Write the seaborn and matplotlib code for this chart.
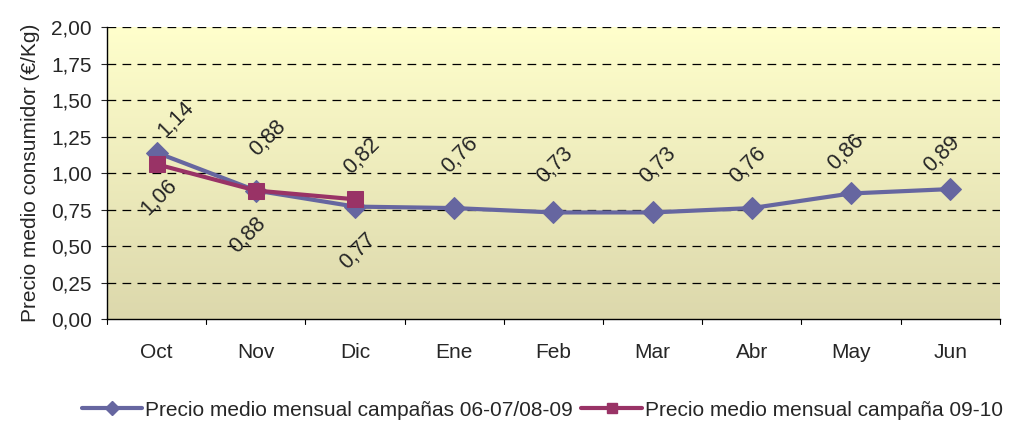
import numpy as np
import pandas as pd
import matplotlib
matplotlib.use("Agg")
import matplotlib.pyplot as plt
import seaborn as sns
from matplotlib.colors import LinearSegmentedColormap

meses = ["Oct", "Nov", "Dic", "Ene", "Feb", "Mar", "Abr", "May", "Jun"]
serie1_nombre = "Precio medio mensual campañas 06-07/08-09"
serie1 = [1.14, 0.88, 0.77, 0.76, 0.73, 0.73, 0.76, 0.86, 0.89]
serie2_nombre = "Precio medio mensual campaña 09-10"
serie2 = [1.06, 0.88, 0.82]
y_ticks = [0.0, 0.25, 0.5, 0.75, 1.0, 1.25, 1.5, 1.75, 2.0]
y_label = "Precio medio consumidor (€/Kg)"

# label offsets (points) - styling only
off1 = [(14, 24), (9, 38), (2, -32), (4, 38), (1, 34), (4, 34), (-3, 31), (-4, 30), (-6, 25)]
off2 = [(2, -24), (-6, -32), (5, 31)]

c1 = "#6666a0"
c2 = "#993366"
FS = 15

sns.set_style("white")
plt.rcParams["font.family"] = ["Liberation Sans", "DejaVu Sans"]

fig = plt.figure(figsize=(10.1, 4.22), dpi=100)
ax = fig.add_axes([0.106, 0.244, 0.884, 0.692])

df1 = pd.DataFrame({"mes": meses, "precio": serie1})
df2 = pd.DataFrame({"mes": meses[:len(serie2)], "precio": serie2})

sns.lineplot(data=df1, x="mes", y="precio", ax=ax, color=c1, lw=3,
             marker="D", markersize=11, markeredgecolor=c1, zorder=3, sort=False)
sns.lineplot(data=df2, x="mes", y="precio", ax=ax, color=c2, lw=3,
             marker="s", markersize=11, markeredgecolor=c2, zorder=4, sort=False)

ax.set_xlim(-0.5, len(meses) - 0.5)
ax.set_ylim(0, 2.0)
ax.set_yticks(y_ticks)
ax.set_yticklabels([f"{v:.2f}".replace(".", ",") for v in y_ticks], fontsize=FS)
ax.set_xticks(range(len(meses)))
ax.set_xticklabels(meses, fontsize=FS)
ax.tick_params(axis="x", length=0, pad=17)
ax.tick_params(axis="y", length=4, direction="out", left=True, pad=7)
for b in np.arange(-0.5, len(meses), 1.0):
    ax.plot([b, b], [0, -0.035], color="black", lw=0.8, clip_on=False)
ax.set_xlabel("")
ax.set_ylabel(y_label, fontsize=FS, labelpad=8)

for y in y_ticks[1:]:
    ax.axhline(y, color="black", lw=0.9, ls=(0, (7, 5)), zorder=1)

cmap = LinearSegmentedColormap.from_list("bg", ["#dcd8ac", "#ffffcc"])
grad = np.linspace(0, 1, 256).reshape(-1, 1)
ax.imshow(grad, extent=[-0.5, len(meses) - 0.5, 0, 2.0], origin="lower",
          cmap=cmap, aspect="auto", zorder=0)

for s in ["top", "right"]:
    ax.spines[s].set_visible(False)
for s in ["left", "bottom"]:
    ax.spines[s].set_color("black")
    ax.spines[s].set_linewidth(1)

def fmt(v):
    return f"{v:.2f}".replace(".", ",")

for i, v in enumerate(serie1):
    ax.annotate(fmt(v), (i, v), xytext=off1[i], textcoords="offset points",
                rotation=45, ha="center", va="center", fontsize=15.5, zorder=5)
for i, v in enumerate(serie2):
    ax.annotate(fmt(v), (i, v), xytext=off2[i], textcoords="offset points",
                rotation=45, ha="center", va="center", fontsize=15.5, zorder=5)

h1 = plt.Line2D([], [], color=c1, lw=3, marker="D", markersize=7)
h2 = plt.Line2D([], [], color=c2, lw=3, marker="s", markersize=7)
fig.legend([h1, h2], [serie1_nombre, serie2_nombre], loc="center",
           bbox_to_anchor=(0.537, 0.028), ncol=2, frameon=False, fontsize=FS,
           handlelength=2.9, handletextpad=0.15, columnspacing=0.4,
           borderaxespad=0, borderpad=0)

fig.savefig("out.png", dpi=100)
